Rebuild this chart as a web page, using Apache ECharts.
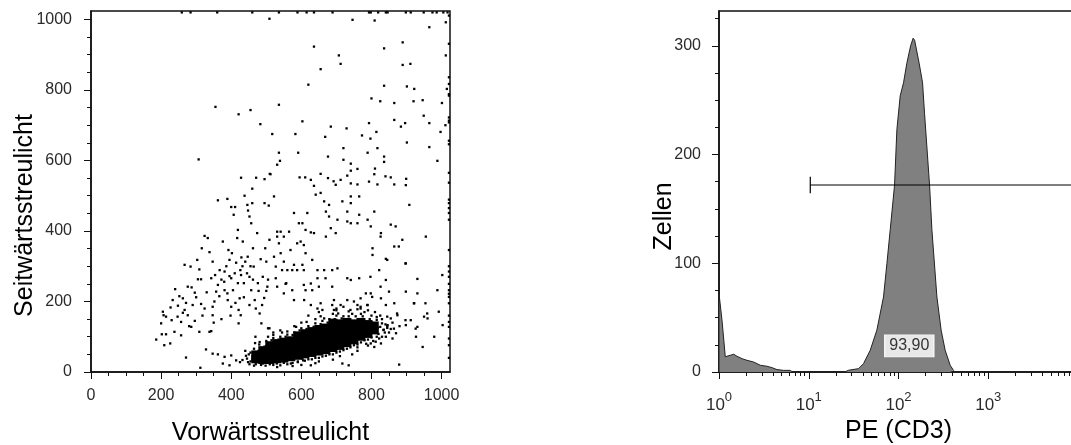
<!DOCTYPE html>
<html>
<head>
<meta charset="utf-8">
<script src="https://cdn.jsdelivr.net/npm/echarts@6/dist/echarts.min.js"></script>
<style>
  html, body { margin: 0; padding: 0; background: #fff; }
  #chart { width: 1071px; height: 445px; }
</style>
</head>
<body>
<div id="chart"></div>
<script>
// ---- Streulicht (FSC / SSC), Einzelereignisse ----
var scatterEvents = [
  // oberer Rand (abgeschnitten)
  [259,1020],[284,1020],[360,1020],[460,1020],[536,1020],[589,1020],[615,1020],[636,1020],[689,1020],
  [793,1020],[798,1020],[819,1020],[841,1020],[846,1020],[898,1020],[912,1020],[949,1020],[974,1020],
  [986,1020],[1005,1020],[1017,1020],
  // rechter Rand (abgeschnitten)
  [1021,1011],[1021,931],[1021,836],[1021,817],[1021,788],[1021,784],[1021,722],[1021,713],[1021,708],
  [1021,656],[1021,646],[1021,565],[1021,537],[1021,489],[1021,479],[1021,465],[1021,451],[1021,432],
  [1021,346],[1021,300],[1021,285],[1021,270],[1021,250],[1021,232],[1021,222],[1021,213],[1021,195],
  [1021,160],[1021,142],[1021,128],[1021,95],[1021,76],[1021,40],
  // oben links
  [509,1002],[355,752],[421,731],[455,743],[483,703],[307,603],[428,551],[471,551],[495,547],[460,520],[510,562],
  // oben rechts
  [746,999],[809,997],[965,978],[1012,992],[636,923],[836,918],[889,935],[707,898],[712,874],[655,859],
  [889,871],[911,874],[1012,898],[620,815],[836,812],[901,810],[922,803],[1015,803],[800,776],[825,768],
  [865,763],[920,768],[946,771],[1001,763],[536,758],[603,711],[684,696],[729,691],[793,706],[865,715],
  [896,706],[884,696],[949,727],[965,706],[1011,700],[517,675],[583,675],[668,667],[773,671],[797,662],
  [814,681],[997,681],[536,622],[591,622],[720,635],[789,622],[817,635],[901,651],[965,638],[676,611],
  [720,602],[836,611],[836,596],[988,599],[539,599],[531,588],[741,591],[810,577],[760,576],[741,571],
  [512,561],[655,562],[731,557],[808,561],[840,555],[855,552],[595,552],[611,552],[627,545],[676,550],
  [692,541],[712,545],[741,535],[793,540],[899,548],[636,528],[698,531],[760,532],[817,532],[865,532],[898,530],
  // unten links
  [186,92],[209,76],[226,81],[202,107],[214,107],[200,138],[207,161],[205,171],[214,157],[227,183],
  [233,204],[240,235],[238,114],[230,147],[247,157],[257,142],[252,215],[262,209],[267,304],[276,242],
  [284,299],[287,240],[271,196],[267,176],[276,161],[286,128],[257,104],[290,190],[300,212],[305,263],
  [309,291],[303,318],[314,263],[316,351],[324,386],[333,380],[309,114],[314,193],[324,180],[338,340],
  [347,313],[343,266],[354,275],[357,228],[362,247],[367,289],[338,114],[343,116],[347,161],[347,185],
  [362,487],[376,370],[381,285],[381,232],[389,491],[389,223],[390,204],[392,346],[395,318],[400,468],
  [400,266],[400,185],[402,337],[405,232],[407,446],[411,468],[414,310],[417,380],[419,403],[419,252],
  [421,138],[421,176],[424,209],[426,289],[427,161],[429,325],[433,370],[436,252],[438,500],[440,313],
  [446,474],[448,458],[452,441],[447,327],[452,270],[457,232],[457,422],[460,479],[462,351],[464,299],
  [467,204],[469,100],[474,394],[476,252],[481,166],[486,138],[490,270],[495,479],[497,351],[500,313],
  [503,242],[507,472],[509,375],[505,124],[271,41],[312,12],[328,64],[347,52],[362,50],[376,24],
  [395,19],[381,43],[400,47],[414,33],[481,85],[509,124],[296,225],[318,160],[352,200],[372,262],
  [386,300],[410,280],[432,300],[445,280],[462,262],[478,230],[494,210],[350,140],[372,150],[398,160],
  [412,196],[436,212],[452,190],[470,180],[488,190],[500,230],[505,262],[248,188],[262,168],[280,130],
  [296,145],[330,226],[366,215],[380,256],[395,272],[428,275],[455,300],[484,320],
  // unten rechts
  [522,498],[579,451],[593,422],[603,422],[617,451],[641,503],[655,508],[665,484],[679,474],[670,455],
  [679,441],[684,408],[703,432],[717,484],[741,498],[741,479],[765,498],[765,446],[731,455],[789,432],
  [731,427],[698,394],[670,384],[636,394],[627,396],[612,403],[607,360],[598,370],[588,365],[531,398],
  [541,398],[565,398],[531,384],[550,384],[536,365],[569,346],[541,337],[522,327],[550,313],[527,299],
  [612,337],[631,318],[646,289],[603,304],[607,289],[579,304],[627,251],[741,422],[760,422],[798,413],
  [808,455],[827,394],[855,418],[869,413],[888,375],[908,474],[955,384],[865,356],[841,321],[803,332],
  [803,351],[822,289],[898,308],[703,294],[688,289],[665,289],[669,266],[646,266],[688,242],[650,242],
  [631,232],[607,247],[612,232],[574,232],[588,289],[574,289],[560,289],[545,289],[527,266],[531,242],
  [550,223],[579,204],[608,204],[627,190],[655,195],[693,204],[712,190],[731,204],[750,200],[769,209],
  [646,180],[660,176],[688,190],[693,176],[769,180],[789,190],[827,209],[741,261],[731,266],[765,266],
  [784,223],[798,223],[850,228],[841,261],[898,228],[931,264],[865,195],[841,190],[922,195],[531,14],
  [603,38],[627,19],[717,24],[735,19],[879,21],[946,71],[979,100],[1003,133],[931,128],[927,100],
  [960,152],[950,157],[912,147],[898,133],[874,161],[855,152],[846,133],[834,119],[798,81],[808,71],
  [827,81],[841,100],[926,123],[959,166],[992,171],[931,223],[954,195],[921,195],[897,147],[864,123],
  [873,166],[845,157],[826,242],[845,318],[826,384],[878,356],[897,308],[1002,275],[988,232],[797,270],
  [802,213],[788,190],[769,185],[555,250],[557,252]
];

// dichter Kern der Lymphozytenwolke
var coreEvents = [
  [470,36],[470,50],
  [490,34],[490,50],[490,62],
  [510,34],[510,50],[510,66],[510,76],
  [530,36],[530,52],[530,68],[530,82],
  [550,38],[550,54],[550,70],[550,86],
  [570,42],[570,58],[570,74],[570,90],
  [590,46],[590,62],[590,78],[590,94],[590,104],
  [610,50],[610,66],[610,82],[610,98],[610,110],
  [630,54],[630,70],[630,86],[630,102],[630,116],
  [650,58],[650,74],[650,90],[650,106],[650,122],
  [670,62],[670,78],[670,94],[670,110],[670,126],
  [690,68],[690,84],[690,100],[690,116],[690,132],[690,140],
  [710,74],[710,90],[710,106],[710,122],[710,138],
  [730,82],[730,98],[730,114],[730,130],[730,142],
  [750,90],[750,106],[750,122],[750,138],
  [770,100],[770,116],[770,132],[770,142],
  [790,108],[790,124],[790,136],
  [808,118],[808,132]
];

// Randbereich der Wolke
var fringeEvents = [
  [455,30],[462,45],[470,22],[485,20],[498,18],[520,20],[540,19],[560,22],[575,26],[590,30],[605,33],
  [620,36],[640,40],[660,44],[680,50],[700,55],[720,62],[740,70],[760,78],[780,90],[800,98],[820,108],
  [835,120],[840,135],[830,150],[815,156],[800,160],[770,165],[745,165],[720,158],[700,160],[680,150],
  [660,145],[640,138],[620,130],[600,124],[580,112],[560,106],[540,100],[520,96],[500,88],[480,78],
  [465,66],[450,50],[445,38],[432,34],[425,28],[600,20],[650,30],[710,45],[760,60],[790,75],[640,150],
  [690,165],[735,172],[760,178],[700,175],[560,115],[520,105],[850,112],[860,140],[845,125],[825,160],
  [780,170],[655,158],[615,142],[585,128],[545,112],[505,100],[468,82],[440,60],[452,22],[575,17],
  [640,25],[690,35],[745,50],[805,88],[822,95],
  [455,55],[460,35],[475,28],[478,60],[495,72],[505,80],[515,90],[535,92],[555,100],[575,105],[595,118],
  [615,122],[635,128],[655,136],[675,140],[695,150],[715,152],[735,158],[755,158],[775,158],[795,150],
  [815,148],[830,138],[845,130],[855,122],[830,100],[815,100],[790,92],[770,84],[750,76],[730,66],
  [710,58],[690,50],[670,46],[650,40],[630,36],[610,32],[590,28],[570,24],[550,26],[530,24],[510,22],
  [490,24],[700,180],[720,185],[650,170],[620,160],[600,140],[580,130],[760,190],[790,175],[810,170],
  [870,110],[880,130],[860,95],[442,46],[448,28],[465,18],[520,112],[540,118],[665,152],[705,166],
  [740,176],[775,150],[800,142],[825,128],[838,112],[812,86],[785,80],[760,70]
];

var fscMajor = [0, 200, 400, 600, 800, 1000];
var fscMinor = [50, 100, 150, 250, 300, 350, 450, 500, 550, 650, 700, 750, 850, 900, 950];
var sscMajor = [0, 200, 400, 600, 800, 1000];
var sscMinor = [50, 100, 150, 250, 300, 350, 450, 500, 550, 650, 700, 750, 850, 900, 950];

// ---- Histogramm PE (CD3), x in Dekaden (log10) ----
var peLog = [0, 0, 0.033, 0.07, 0.08, 0.126, 0.163, 0.2, 0.256, 0.31, 0.385, 0.46, 0.534, 0.59, 0.646, 0.72,
  0.794, 0.82, 1.40, 1.443, 1.555, 1.61, 1.685, 1.759, 1.833, 1.871, 1.908, 1.956, 1.982, 2.019, 2.056,
  2.093, 2.135, 2.163, 2.18, 2.23, 2.268, 2.29, 2.346, 2.372, 2.428, 2.475, 2.52, 2.576, 2.612, 2.63];
var cells = [0, 72, 48, 14, 13, 15.4, 16.3, 14.5, 12.3, 10.8, 9.2, 6.2, 5.3, 4, 2.2, 1.5,
  1.5, 0, 0, 1.6, 3.1, 7.7, 20, 38.5, 69, 100, 131, 172, 223, 254, 266,
  284, 300, 307, 305, 284, 266, 238, 172, 131, 69, 38.5, 20, 6.2, 1.6, 0];

var peDecadeTicks = [0, 1, 2, 3, 4];
var peDecadeLabels = [0, 1, 2, 3];
var peMinorFactors = [2, 3, 4, 5, 6, 7, 8, 9];
var cellMajor = [0, 100, 200, 300];
var cellMinor = [25, 50, 75, 125, 150, 175, 225, 250, 275, 325];

// Marker (Gate) und Prozentwert
var gateStartLog = 1.017;
var gateLevel = 172;
var gatePercent = '93,90';
var gateLabelPos = [2.12, 24];

var FONT = '"Liberation Sans", Arial, sans-serif';
var AXIS_COLOR = '#111';

var histData = [];
for (var i = 0; i < peLog.length; i++) {
  histData.push([peLog[i], cells[i]]);
}
var peMinor = [];
for (var d = 0; d < 4; d++) {
  for (var k = 0; k < peMinorFactors.length; k++) {
    peMinor.push(d + Math.log10(peMinorFactors[k]));
  }
}

function mainAxis(grid, min, max, major, extra) {
  var ax = {
    gridIndex: grid,
    type: 'value',
    min: min,
    max: max,
    nameMoveOverlap: false,
    axisLine: { show: true, onZero: false, lineStyle: { color: AXIS_COLOR, width: 1.5 } },
    axisTick: { show: true, customValues: major, length: 7, lineStyle: { color: AXIS_COLOR, width: 1 } },
    axisLabel: {
      customValues: major, fontSize: 16, color: '#2a2a2a', fontFamily: FONT,
      formatter: function (v) { return String(v); }
    },
    splitLine: { show: false },
    nameTextStyle: { fontSize: 25, color: '#000', fontFamily: FONT }
  };
  for (var key in extra) {
    if (key === 'axisLabel') {
      for (var k2 in extra.axisLabel) ax.axisLabel[k2] = extra.axisLabel[k2];
    } else if (key === 'nameTextStyle') {
      for (var k3 in extra.nameTextStyle) ax.nameTextStyle[k3] = extra.nameTextStyle[k3];
    } else {
      ax[key] = extra[key];
    }
  }
  return ax;
}

function minorAxis(grid, min, max, minor, position) {
  return {
    gridIndex: grid,
    type: 'value',
    min: min,
    max: max,
    position: position,
    axisLine: { show: false, onZero: false },
    axisTick: { show: true, customValues: minor, length: 4, lineStyle: { color: AXIS_COLOR, width: 1 } },
    axisLabel: { show: false },
    splitLine: { show: false }
  };
}

var chart = echarts.init(document.getElementById('chart'), null, { renderer: 'canvas' });

var option = {
  animation: false,
  backgroundColor: '#fff',
  grid: [
    { left: 91, top: 11, width: 359, height: 361, show: true, borderColor: AXIS_COLOR, borderWidth: 1.5,
      outerBoundsMode: 'none', containLabel: false },
    { left: 719, top: 11, width: 359, height: 361, show: true, borderColor: AXIS_COLOR, borderWidth: 1.5,
      outerBoundsMode: 'none', containLabel: false }
  ],
  xAxis: [
    mainAxis(0, 0, 1024, fscMajor, {
      position: 'bottom',
      name: 'Vorwärtsstreulicht', nameLocation: 'middle', nameGap: 49,
      axisLabel: { margin: 16 }
    }),
    minorAxis(0, 0, 1024, fscMinor, 'bottom'),
    mainAxis(1, 0, 4, peDecadeTicks, {
      position: 'bottom',
      name: 'PE (CD3)', nameLocation: 'middle', nameGap: 47,
      axisLabel: {
        customValues: peDecadeLabels,
        margin: 19,
        formatter: function (v) { return '{b|10}{s|' + v + '}'; },
        rich: {
          b: { fontSize: 17, color: '#2a2a2a', fontFamily: FONT, verticalAlign: 'bottom' },
          s: { fontSize: 13, color: '#2a2a2a', fontFamily: FONT, padding: [0, 0, 10, 0], verticalAlign: 'bottom' }
        }
      }
    }),
    minorAxis(1, 0, 4, peMinor, 'bottom')
  ],
  yAxis: [
    mainAxis(0, 0, 1024, sscMajor, {
      position: 'left',
      name: 'Seitwärtsstreulicht', nameLocation: 'middle', nameGap: 53,
      nameTextStyle: { padding: [0, 48, 0, 0] },
      axisLabel: { margin: 19 }
    }),
    minorAxis(0, 0, 1024, sscMinor, 'left'),
    mainAxis(1, 0, 332, cellMajor, {
      position: 'left',
      name: 'Zellen', nameLocation: 'middle', nameGap: 42,
      nameTextStyle: { padding: [0, 50, 0, 0] },
      axisLabel: { margin: 18 }
    }),
    minorAxis(1, 0, 332, cellMinor, 'left')
  ],
  series: [
    {
      name: 'Ereignisse',
      type: 'scatter',
      xAxisIndex: 0, yAxisIndex: 0,
      symbol: 'rect', symbolSize: 2.3,
      itemStyle: { color: '#000', opacity: 1 },
      data: scatterEvents.concat(fringeEvents),
      silent: true
    },
    {
      name: 'Kern',
      type: 'scatter',
      xAxisIndex: 0, yAxisIndex: 0,
      symbol: 'rect', symbolSize: [9, 8],
      itemStyle: { color: '#000', opacity: 1 },
      data: coreEvents,
      silent: true
    },
    {
      name: 'PE (CD3)',
      type: 'line',
      xAxisIndex: 2, yAxisIndex: 2,
      showSymbol: false,
      smooth: false,
      lineStyle: { color: '#222', width: 1 },
      areaStyle: { color: '#808080', opacity: 1, origin: 'start' },
      data: histData,
      silent: true
    },
    {
      name: 'Marker',
      type: 'line',
      xAxisIndex: 2, yAxisIndex: 2,
      showSymbol: false,
      lineStyle: { color: '#000', width: 1.2 },
      data: [[gateStartLog, gateLevel], [4, gateLevel]],
      silent: true
    },
    {
      name: 'MarkerEnde',
      type: 'line',
      xAxisIndex: 2, yAxisIndex: 2,
      showSymbol: false,
      lineStyle: { color: '#000', width: 1.2 },
      data: [[gateStartLog, gateLevel - 7.5], [gateStartLog, gateLevel + 7.5]],
      silent: true
    },
    {
      name: 'Prozent',
      type: 'scatter',
      xAxisIndex: 2, yAxisIndex: 2,
      z: 10,
      symbol: 'rect',
      symbolSize: [49, 22],
      itemStyle: { color: '#e8e8e8', borderColor: '#f6f6f6', borderWidth: 1, opacity: 1 },
      data: [gateLabelPos],
      label: {
        show: true,
        position: 'inside',
        formatter: gatePercent,
        fontSize: 16,
        color: '#333',
        fontFamily: FONT
      },
      silent: true
    }
  ]
};

chart.setOption(option);
</script>
</body>
</html>
